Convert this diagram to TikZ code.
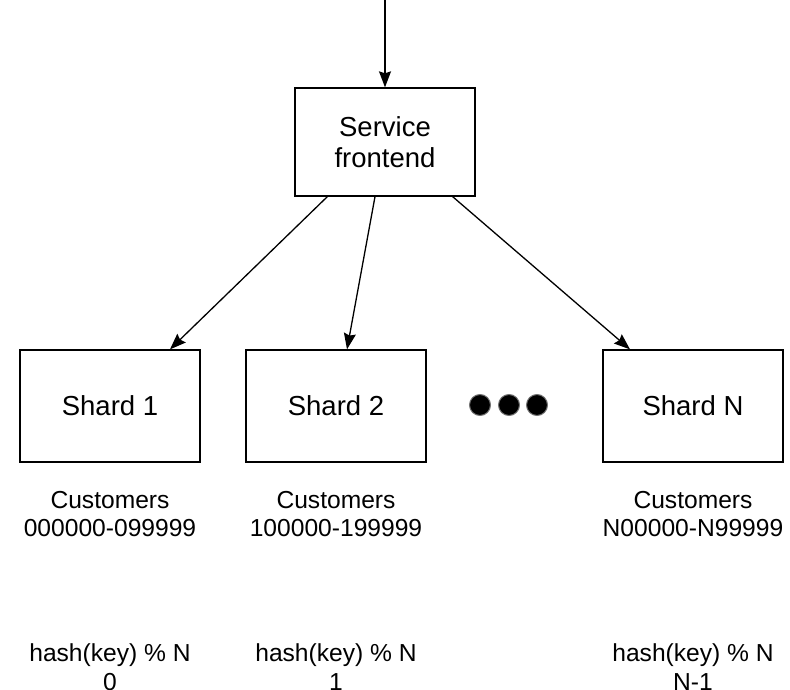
\documentclass[tikz,border=0pt]{standalone}
\usepackage{fontspec}
\setmainfont{Liberation Sans}
\usetikzlibrary{arrows.meta}
\tikzset{
  box/.style={draw=black, line width=1.3pt, minimum width=180pt, inner sep=0pt, align=center, font=\fontsize{27.5}{31}\selectfont},
  lbl/.style={align=center, inner sep=0pt, font=\fontsize{24.6}{28.5}\selectfont},
  arr/.style={line width=1.3pt, -{Stealth[length=16pt, width=12pt, inset=2pt]}},
  dot/.style={circle, fill=black, draw=black!55, line width=1pt, minimum size=21pt, inner sep=0pt}
}
\begin{document}
\begin{tikzpicture}[x=1pt, y=-1pt]
\useasboundingbox (0,0) rectangle (790,690);
\coordinate (in) at (385,0);
\node[box, minimum height=108pt] (fe) at (385,142) {Service\\frontend};
\node[box, minimum height=112pt] (s1) at (110,406) {Shard 1};
\node[box, minimum height=112pt] (s2) at (336,406) {Shard 2};
\node[box, minimum height=112pt] (sN) at (693,406) {Shard N};
\node[dot] (d1) at (480,405) {};
\node[dot] (d2) at (509,405) {};
\node[dot] (d3) at (537,405) {};
\draw[arr] (in) -- (fe.north);
\draw[arr] ([xshift=33pt]fe.south west) -- ([xshift=60pt]s1.north);
\draw[arr] ([xshift=-10pt]fe.south) -- ([xshift=11pt]s2.north);
\draw[arr] ([xshift=-23pt]fe.south east) -- ([xshift=-63pt]sN.north);
\node[lbl] (c1) at (110,514) {Customers\\000000-099999};
\node[lbl] (c2) at (336,514) {Customers\\100000-199999};
\node[lbl] (cN) at (693,514) {Customers\\N00000-N99999};
\node[lbl] (h1) at (110,667) {hash(key) \% N\\0};
\node[lbl] (h2) at (336,667) {hash(key) \% N\\1};
\node[lbl] (hN) at (693,667) {hash(key) \% N\\N-1};
\end{tikzpicture}
\end{document}
